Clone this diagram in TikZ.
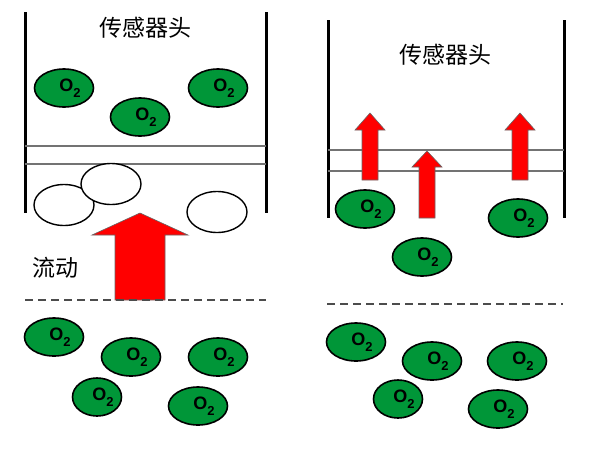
\documentclass[tikz,border=0pt]{standalone}
\usepackage{fontspec}
\setmainfont{Liberation Sans}
\newfontfamily\cjk{Noto Sans CJK SC}
\usetikzlibrary{shapes.geometric}
\definecolor{molgreen}{RGB}{0,150,56}
\newcommand{\otwo}{\hspace*{12pt}O\raisebox{-6pt}{\fontsize{13}{13}\selectfont 2}}
% centre x, tip y, bottom y, half shaft, half head, head base y
\newcommand{\risearrow}[6]{\draw[flow] (#1-#4,#3) -- (#1-#4,#6) -- (#1-#5,#6) -- (#1,#2)
    -- (#1+#5,#6) -- (#1+#4,#6) -- (#1+#4,#3) -- cycle;}

\begin{document}
\begin{tikzpicture}[x=1pt, y=-1pt,
    wall/.style={line width=3pt},
    membrane/.style={draw=black!55, line width=1.6pt},
    flowline/.style={draw=black!70, line width=2.6pt, dash pattern=on 8pt off 5pt},
    molecule/.style={ellipse, draw, line width=1.6pt, fill=molgreen, inner sep=0pt,
                     minimum width=59pt, minimum height=38pt,
                     font=\bfseries\fontsize{18}{18}\selectfont},
    bubble/.style={ellipse, draw, line width=1.4pt, fill=white, inner sep=0pt,
                   minimum width=60pt, minimum height=41pt},
    flow/.style={draw=black!60, line width=0.6pt, fill=red},
    caption/.style={font=\cjk\fontsize{23}{23}\selectfont, inner sep=0pt}
    ]
    \useasboundingbox (0,0) rectangle (596,450);

    %% left: blocked sensor head
    \draw[wall] (25,12) -- (25,213);
    \draw[wall] (266,12) -- (266,213);
    \draw[membrane] (25,146) -- (266,146);
    \draw[membrane] (25,164) -- (266,164);
    \node[caption] (headL) at (145,28) {传感器头};
    \node[molecule] (uL1) at (64,88) {\otwo};
    \node[molecule] (uL2) at (140,117) {\otwo};
    \node[molecule] (uL3) at (218,88) {\otwo};
    \node[bubble] (bub1) at (64,205) {};
    \node[bubble] (bub2) at (111,184) {};
    \node[bubble] (bub3) at (217,212) {};
    \risearrow{140}{213}{300}{25}{48}{235}
    \node[caption] (flowtxt) at (55,268) {流动};
    \draw[flowline] (25,300) -- (266,300);
    \node[molecule] (lL1) at (54,337) {\otwo};
    \node[molecule] (lL2) at (131,357) {\otwo};
    \node[molecule] (lL3) at (218,357) {\otwo};
    \node[molecule, minimum width=49pt] (lL4) at (97,397) {\otwo};
    \node[molecule] (lL5) at (198,406) {\otwo};

    %% right: open sensor head
    \draw[wall] (328,20) -- (328,218);
    \draw[wall] (564,20) -- (564,218);
    \draw[membrane] (328,150) -- (564,150);
    \draw[membrane] (328,171) -- (564,171);
    \node[caption] (headR) at (445,55) {传感器头};
    \risearrow{370}{113}{180}{8}{15}{130}
    \risearrow{427}{151}{218}{8}{15}{167}
    \risearrow{520}{113}{180}{8}{15}{130}
    \node[molecule] (uR1) at (365,209) {\otwo};
    \node[molecule] (uR2) at (518,218) {\otwo};
    \node[molecule] (uR3) at (422,257) {\otwo};
    \draw[flowline] (327,304) -- (563,304);
    \node[molecule] (lR1) at (356,342) {\otwo};
    \node[molecule] (lR2) at (432,361) {\otwo};
    \node[molecule] (lR3) at (517,361) {\otwo};
    \node[molecule, minimum width=49pt] (lR4) at (398,399) {\otwo};
    \node[molecule] (lR5) at (498,409) {\otwo};
\end{tikzpicture}
\end{document}
